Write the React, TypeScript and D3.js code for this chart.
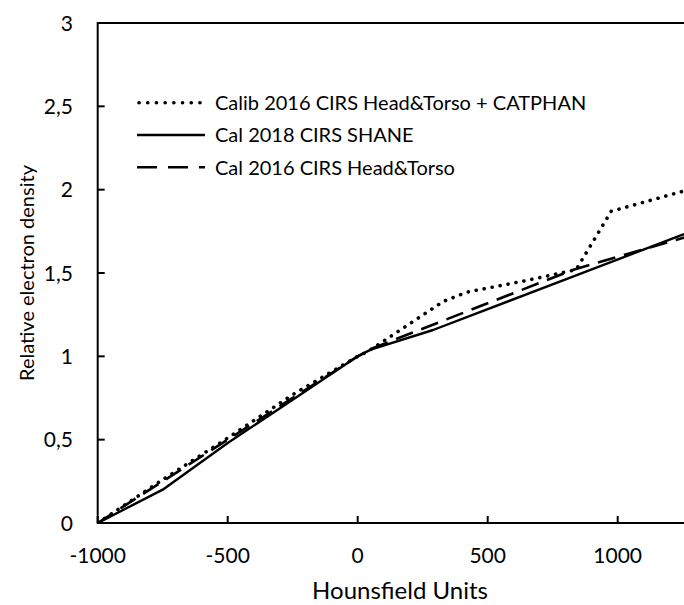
import React from "react";
import * as d3 from "d3";

const dottedX = [-1000, -750, -500, -250, 0, 40, 330, 420, 650, 840, 975, 1250, 1400];
const dottedY = [0, 0.26, 0.51, 0.77, 1.0, 1.03, 1.33, 1.385, 1.455, 1.52, 1.87, 1.99, 2.055];

const solidX = [-1000, -750, -500, -250, 0, 50, 290, 830, 1250, 1400];
const solidY = [0, 0.2, 0.48, 0.74, 1.0, 1.04, 1.158, 1.48, 1.73, 1.82];

const dashedX = [-1000, -750, -500, 0, 60, 830, 1250, 1400];
const dashedY = [0, 0.25, 0.5, 1.0, 1.05, 1.52, 1.71, 1.78];

const xTicks = [-1000, -500, 0, 500, 1000];
const xTickLabels = ["-1000", "-500", "0", "500", "1000"];
const yTicks = [0, 0.5, 1, 1.5, 2, 2.5, 3];
const yTickLabels = ["0", "0,5", "1", "1,5", "2", "2,5", "3"];

const seriesNames = [
  "Calib 2016 CIRS Head&Torso + CATPHAN",
  "Cal 2018 CIRS SHANE",
  "Cal 2016 CIRS Head&Torso",
];

const FONT = "Lato, 'Open Sans', sans-serif";

export default function App() {
  const W = 684;
  const H = 605;
  const left = 97.7;
  const pxPerUnit = 0.26;
  const xMax = 1330;
  const x = d3.scaleLinear().domain([-1000, xMax]).range([left, left + (xMax + 1000) * pxPerUnit]);
  const y = d3.scaleLinear().domain([0, 3]).range([523, 23]);
  const [x0, x1] = x.range();
  const [yb, yt] = y.range();

  const line = d3
    .line<[number, number]>()
    .x((d) => x(d[0]))
    .y((d) => y(d[1]));

  const mk = (xs: number[], ys: number[]) => xs.map((v, i) => [v, ys[i]] as [number, number]);

  const series = [
    { data: mk(dottedX, dottedY), dash: "0.1 8", width: 3.6, cap: "round" as const },
    { data: mk(solidX, solidY), dash: undefined, width: 2.4, cap: "butt" as const },
    { data: mk(dashedX, dashedY), dash: "18 9", width: 2.6, cap: "butt" as const },
  ];

  const legendRows = [102.7, 135, 167.3];

  return (
    <svg
      width={W}
      height={H}
      style={{ position: "absolute", left: 0, top: 0, background: "#fff" }}
      fontFamily={FONT}
    >
      <defs>
        <clipPath id="plotclip">
          <rect x={x0} y={yt} width={x1 - x0} height={yb - yt} />
        </clipPath>
      </defs>
      <rect x={0} y={0} width={W} height={H} fill="#fff" />

      {/* ticks */}
      {yTicks.map((t) => (
        <line key={"yt" + t} x1={x0} x2={x0 + 7} y1={y(t)} y2={y(t)} stroke="#000" strokeWidth={2} />
      ))}
      {xTicks.map((t) => (
        <line key={"xt" + t} x1={x(t)} x2={x(t)} y1={yb} y2={yb - 7} stroke="#000" strokeWidth={2} />
      ))}

      {/* series */}
      <g clipPath="url(#plotclip)">
        {series.map((s, i) => (
          <path
            key={i}
            d={line(s.data) || ""}
            fill="none"
            stroke="#000"
            strokeWidth={s.width}
            strokeDasharray={s.dash}
            strokeLinecap={s.cap}
            strokeLinejoin="round"
          />
        ))}
      </g>

      {/* frame */}
      <line x1={x0} x2={x1} y1={yt} y2={yt} stroke="#000" strokeWidth={2} />
      <line x1={x0} x2={x1} y1={yb} y2={yb} stroke="#000" strokeWidth={2} />
      <line x1={x0} x2={x0} y1={yt - 1} y2={yb + 1} stroke="#000" strokeWidth={2} />

      {/* y tick labels */}
      {yTicks.map((t, i) => (
        <text key={"yl" + t} x={73} y={y(t)} dy="0.36em" textAnchor="end" fontSize={21} fill="#000">
          {yTickLabels[i]}
        </text>
      ))}
      {/* x tick labels */}
      {xTicks.map((t, i) => (
        <text key={"xl" + t} x={x(t)} y={563} textAnchor="middle" fontSize={21} fill="#000">
          {xTickLabels[i]}
        </text>
      ))}

      {/* axis titles */}
      <text x={400} y={599} textAnchor="middle" fontSize={24} fill="#000">
        Hounsfield Units
      </text>
      <text
        transform={`translate(34, ${(yt + yb) / 2}) rotate(-90)`}
        textAnchor="middle"
        fontSize={20}
        fill="#000"
      >
        Relative electron density
      </text>

      {/* legend */}
      {legendRows.map((ly, i) => (
        <g key={"lg" + i}>
          <line
            x1={i === 0 ? 139 : 137}
            x2={205}
            y1={ly}
            y2={ly}
            stroke="#000"
            strokeWidth={series[i].width}
            strokeDasharray={i === 0 ? "0.1 8.6" : i === 2 ? "20 11" : undefined}
            strokeLinecap={series[i].cap}
          />
          <text x={215} y={ly} dy="0.36em" fontSize={20} fill="#000">
            {seriesNames[i]}
          </text>
        </g>
      ))}
    </svg>
  );
}
